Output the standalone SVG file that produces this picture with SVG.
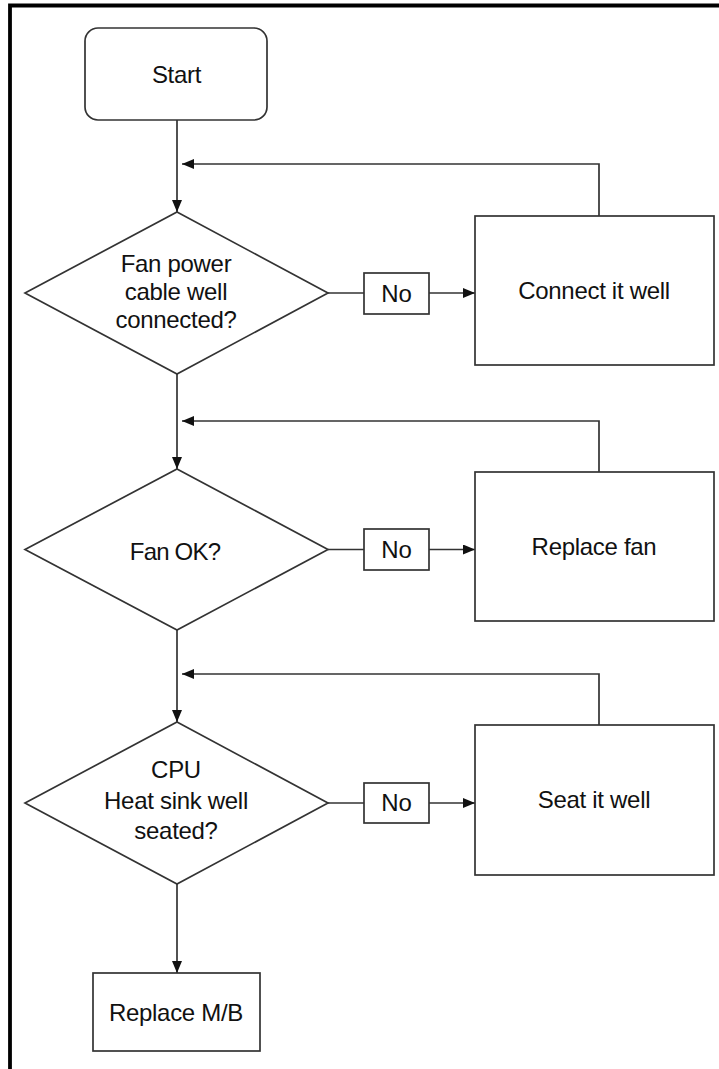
<svg xmlns="http://www.w3.org/2000/svg" width="719" height="1069" viewBox="0 0 719 1069">
<style>
.shape{fill:#fff;stroke:#333;stroke-width:1.7}
.conn{fill:none;stroke:#333;stroke-width:1.7}
text{font-family:"Liberation Sans",Arial,sans-serif;font-size:24px;fill:#111;text-anchor:middle}
</style>
<defs>
<marker id="arr" markerUnits="userSpaceOnUse" markerWidth="12" markerHeight="10" refX="12" refY="5" orient="auto">
<path d="M0,0 L12,5 L0,10 z" fill="#111"/>
</marker>
</defs>
<rect width="719" height="1069" fill="#fff"/>
<path d="M10,1069 V5.5 H719" fill="none" stroke="#000" stroke-width="3.8"/>
<g id="connectors">
<path class="conn" d="M177,120 V212" marker-end="url(#arr)"/>
<path class="conn" d="M599,216 V164 H182" marker-end="url(#arr)"/>
<path class="conn" d="M328,293 H364"/>
<path class="conn" d="M429,293 H475" marker-end="url(#arr)"/>
<path class="conn" d="M177,374 V469" marker-end="url(#arr)"/>
<path class="conn" d="M599,472 V421 H182" marker-end="url(#arr)"/>
<path class="conn" d="M328,549.5 H364"/>
<path class="conn" d="M429,549.5 H475" marker-end="url(#arr)"/>
<path class="conn" d="M177,630 V722" marker-end="url(#arr)"/>
<path class="conn" d="M599,725 V674 H182" marker-end="url(#arr)"/>
<path class="conn" d="M328,803 H364"/>
<path class="conn" d="M429,803 H475" marker-end="url(#arr)"/>
<path class="conn" d="M177,884 V973" marker-end="url(#arr)"/>
</g>
<g id="start">
<rect class="shape" x="85" y="28" width="182" height="92" rx="13"/>
<text x="176.5" y="83" letter-spacing="-0.3">Start</text>
</g>
<g id="d1">
<polygon class="shape" points="177,212 328,293 177,374 25,293"/>
<text x="176" y="272" letter-spacing="-0.3">Fan power</text>
<text x="176" y="300" letter-spacing="-0.3">cable well</text>
<text x="176" y="328" letter-spacing="-0.3">connected?</text>
</g>
<g id="no1">
<rect class="shape" x="364" y="273" width="65" height="41"/>
<text x="396.5" y="302">No</text>
</g>
<g id="connect">
<rect class="shape" x="475" y="216" width="239" height="149"/>
<text x="594" y="299" letter-spacing="-0.3">Connect it well</text>
</g>
<g id="d2">
<polygon class="shape" points="177,469 328,549.5 177,630 25,549.5"/>
<text x="175" y="560" letter-spacing="-0.8">Fan OK?</text>
</g>
<g id="no2">
<rect class="shape" x="364" y="529" width="65" height="41"/>
<text x="396.5" y="558">No</text>
</g>
<g id="replacefan">
<rect class="shape" x="475" y="472" width="239" height="149"/>
<text x="594" y="555" letter-spacing="-0.3">Replace fan</text>
</g>
<g id="d3">
<polygon class="shape" points="177,722 328,803 177,884 25,803"/>
<text x="176" y="778" letter-spacing="-0.3">CPU</text>
<text x="176" y="809" letter-spacing="-0.3">Heat sink well</text>
<text x="176" y="839" letter-spacing="-0.3">seated?</text>
</g>
<g id="no3">
<rect class="shape" x="364" y="783" width="65" height="40"/>
<text x="396.5" y="811">No</text>
</g>
<g id="seat">
<rect class="shape" x="475" y="725" width="239" height="150"/>
<text x="594" y="808" letter-spacing="-0.3">Seat it well</text>
</g>
<g id="replacemb">
<rect class="shape" x="93" y="973" width="167" height="78"/>
<text x="176" y="1021" letter-spacing="-0.3">Replace M/B</text>
</g>
</svg>
